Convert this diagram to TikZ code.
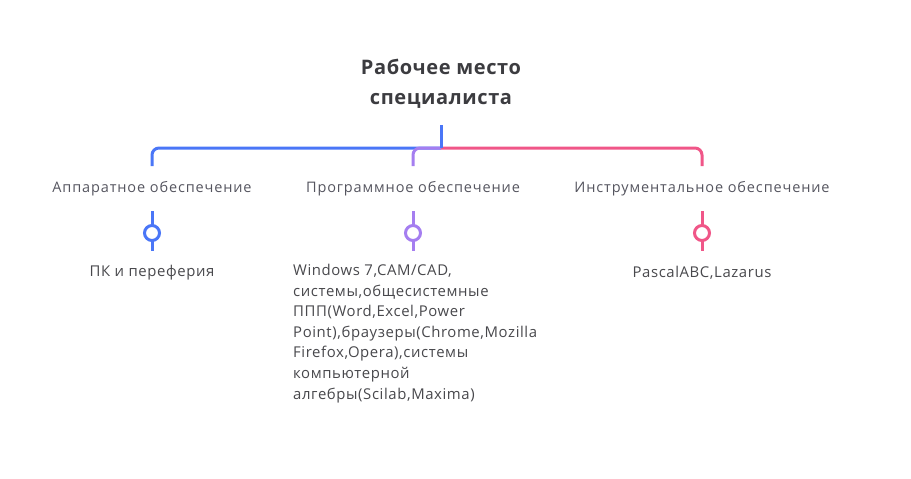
\documentclass[tikz,border=0pt]{standalone}
\usepackage{fontspec}
\setmainfont{Open Sans}
\newfontfamily\spaced[LetterSpace=6]{Open Sans}
\newfontfamily\bodyfont[LetterSpace=4]{Open Sans}
\newfontfamily\titlefont[LetterSpace=3]{Open Sans}
\definecolor{cblue}{RGB}{74,118,247}
\definecolor{cpurple}{RGB}{165,126,240}
\definecolor{cpink}{RGB}{240,86,136}
\definecolor{ctitle}{RGB}{60,60,64}
\definecolor{clabel}{RGB}{85,85,95}
\definecolor{cbody}{RGB}{72,72,76}
\tikzset{
  branch/.style={line width=3pt, rounded corners=7pt},
  pinline/.style={line width=3pt},
  pinhead/.style={circle, draw, fill=white, line width=3pt, minimum size=15pt, inner sep=0pt},
  catlabel/.style={text=clabel, font=\spaced\fontsize{14.5}{17}\selectfont, inner sep=0pt},
  bodytext/.style={text=cbody, font=\bodyfont\fontsize{14.9}{20.6}\selectfont, inner sep=0pt},
}
\begin{document}
\begin{tikzpicture}[x=1pt,y=-1pt]
\useasboundingbox (0,0) rectangle (911,479);
\node[font=\titlefont\fontsize{20}{30}\selectfont\bfseries, text=ctitle, align=center, inner sep=0pt] (title) at (441,84) {Рабочее место\\специалиста};
\coordinate (top) at (441,125);
\coordinate (hub) at (441,148);
\coordinate (e1) at (152,166);
\coordinate (e2) at (413,166);
\coordinate (e3) at (702,166);
\draw[branch, cblue] (hub) -| (e1);
\draw[branch, cpink] (hub) -| (e3);
\draw[branch, cpurple] (hub) -| (e2);
\draw[pinline, cblue] (top) -- (hub);

\node[catlabel] (hw) at (152,189) {Аппаратное обеспечение};
\node[catlabel] (sw) at (413,189) {Программное обеспечение};
\node[catlabel] (tl) at (702,189) {Инструментальное обеспечение};

\coordinate (a1) at (152,211); \coordinate (b1) at (152,251);
\coordinate (a2) at (413,211); \coordinate (b2) at (413,251);
\coordinate (a3) at (702,211); \coordinate (b3) at (702,251);
\draw[pinline, cblue] (a1) -- (b1);
\draw[pinline, cpurple] (a2) -- (b2);
\draw[pinline, cpink] (a3) -- (b3);
\node[pinhead, draw=cblue] (p1) at (152,233) {};
\node[pinhead, draw=cpurple] (p2) at (413,233) {};
\node[pinhead, draw=cpink] (p3) at (702,233) {};

\node[bodytext] (t1) at (152,273) {ПК и переферия};
\node[bodytext] (t3) at (702,273) {PascalABC,Lazarus};
\node[bodytext, anchor=north west, align=left] (t2) at (293,264) {Windows 7,CAM/CAD,\\системы,общесистемные\\ППП(Word,Excel,Power\\Point),браузеры(Chrome,Mozilla\\Firefox,Opera),системы\\компьютерной\\алгебры(Scilab,Maxima)};
\end{tikzpicture}
\end{document}
